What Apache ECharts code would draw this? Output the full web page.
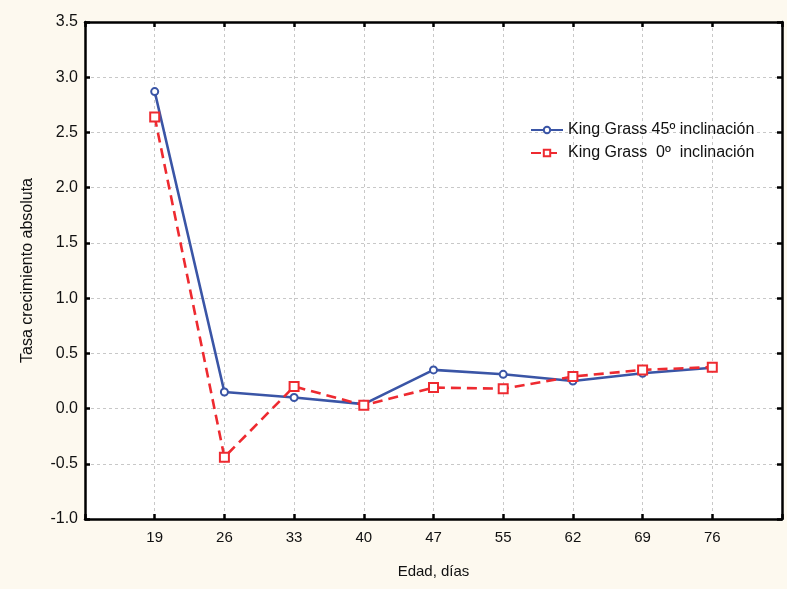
<!DOCTYPE html>
<html><head><meta charset="utf-8">
<script src="https://cdn.jsdelivr.net/npm/echarts@6/dist/echarts.min.js"></script>
<style>html,body{margin:0;padding:0;background:#FDF9EF}#c{width:787px;height:589px}</style>
</head><body><div id="c"></div>
<script>
const categories = ['', '19', '26', '33', '40', '47', '55', '62', '69', '76', ''];
const kg45 = ['-', 2.87, 0.15, 0.10, 0.04, 0.35, 0.31, 0.25, 0.32, 0.37, '-'];
const kg0  = ['-', 2.64, -0.44, 0.20, 0.03, 0.19, 0.18, 0.29, 0.35, 0.375, '-'];
const seriesNames = ['King Grass 45º inclinación', 'King Grass  0º  inclinación'];
const yTicks = { min: -1.0, max: 3.5, interval: 0.5 };

const chart = echarts.init(document.getElementById('c'));
const axisLine = { show: true, onZero: false, lineStyle: { color: '#000', width: 2.5 } };
const tick = { show: true, length: 5, inside: true, lineStyle: { color: '#000', width: 2.5 } };
const grid = { show: true, lineStyle: { color: '#c8c8c8', type: [3, 3], width: 1 } };
const font = 'Liberation Sans, Arial, sans-serif';
chart.setOption({
  backgroundColor: '#FDF9EF',
  animation: false,
  textStyle: { fontFamily: font },
  grid: { left: 85, right: 5, top: 22, bottom: 70, show: true, backgroundColor: '#fff', borderWidth: 0 },
  legend: {
    left: 530, top: 122, padding: 0, orient: 'vertical', itemGap: 7, itemWidth: 32, itemHeight: 8,
    textStyle: { fontSize: 16, lineHeight: 16, color: '#111', fontFamily: font },
    data: seriesNames
  },
  xAxis: [{
    type: 'category', data: categories, boundaryGap: false, position: 'bottom',
    name: 'Edad, días', nameLocation: 'middle', nameGap: 45,
    nameTextStyle: { fontSize: 15, color: '#111' },
    axisLine, axisTick: tick,
    axisLabel: { fontSize: 15, color: '#111', margin: 11 },
    splitLine: grid
  }, {
    type: 'category', data: categories, boundaryGap: false, position: 'top',
    axisLine, axisTick: tick,
    axisLabel: { show: false }, splitLine: { show: false }
  }],
  yAxis: [{
    type: 'value', min: yTicks.min, max: yTicks.max, interval: yTicks.interval, position: 'left',
    name: 'Tasa crecimiento absoluta', nameLocation: 'middle', nameGap: 49, nameRotate: 90,
    nameTextStyle: { fontSize: 16, color: '#111' },
    axisLine, axisTick: tick,
    axisLabel: { fontSize: 16, color: '#111', margin: 7, formatter: v => v.toFixed(1) },
    splitLine: grid
  }, {
    type: 'value', min: yTicks.min, max: yTicks.max, interval: yTicks.interval, position: 'right',
    axisLine, axisTick: tick,
    axisLabel: { show: false }, splitLine: { show: false }
  }],
  series: [{
    name: seriesNames[0], type: 'line', data: kg45,
    symbol: 'emptyCircle', symbolSize: 7, showAllSymbol: true,
    lineStyle: { color: '#3A55A6', width: 2.6 },
    itemStyle: { color: '#3A55A6', borderWidth: 1.2 }
  }, {
    name: seriesNames[1], type: 'line', data: kg0,
    symbol: 'emptyRect', symbolSize: 9, showAllSymbol: true,
    lineStyle: { color: '#EE2A30', width: 2.6, type: [10, 6] },
    itemStyle: { color: '#EE2A30', borderWidth: 1.2 }
  }]
});
</script></body></html>
